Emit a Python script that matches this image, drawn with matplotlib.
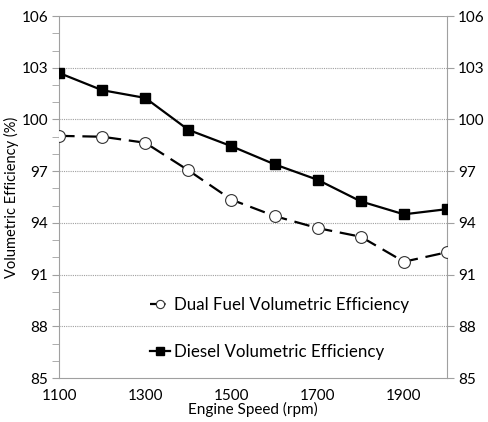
import matplotlib
matplotlib.use("Agg")
import matplotlib.pyplot as plt
from matplotlib.ticker import FixedLocator, MultipleLocator

plt.rcParams['font.family'] = ['Lato', 'DejaVu Sans']

speed = [1100, 1200, 1300, 1400, 1500, 1600, 1700, 1800, 1900, 2000]
diesel = [102.7, 101.7, 101.25, 99.4, 98.45, 97.4, 96.5, 95.25, 94.5, 94.8]
dual = [99.05, 99.0, 98.65, 97.05, 95.35, 94.4, 93.7, 93.2, 91.75, 92.3]
yticks = [85, 88, 91, 94, 97, 100, 103, 106]
xticks = [1100, 1300, 1500, 1700, 1900]

fig = plt.figure(figsize=(4.88, 4.22), dpi=100)
ax = fig.add_axes([0.121, 0.104, 0.795, 0.858])

grid_c = '#a0a0a0'
ax.set_xlim(1100, 2000)
ax.set_ylim(85, 106)
for y in yticks[1:]:
    ax.axhline(y, color=grid_c, lw=0.8, ls=(0, (1, 1)) if y < 106 else '-', zorder=1)

l1, = ax.plot(speed, dual, color='black', lw=1.6, ls=(0, (7, 3.5)), marker='o',
              markersize=8.5, markerfacecolor='white', markeredgecolor='#333333',
              markeredgewidth=0.8, zorder=3, label='Dual Fuel Volumetric Efficiency')
l2, = ax.plot(speed, diesel, color='black', lw=1.6, marker='s', markersize=7.5,
              markerfacecolor='black', markeredgecolor='black', zorder=3,
              label='Diesel Volumetric Efficiency')

for s in ['left', 'right', 'bottom']:
    ax.spines[s].set_color(grid_c)
    ax.spines[s].set_linewidth(0.8)
ax.spines['top'].set_visible(False)

ax.set_yticks(yticks)
ax.yaxis.set_minor_locator(MultipleLocator(1))
ax.tick_params(axis='y', which='major', length=5, color=grid_c, labelsize=11, pad=3)
ax.tick_params(axis='y', which='minor', length=5, color=grid_c)
ax.set_xticks(xticks)
ax.xaxis.set_minor_locator(FixedLocator([1100, 1500, 1900]))
ax.tick_params(axis='x', which='major', length=0, labelsize=11, pad=8)
ax.tick_params(axis='x', which='minor', length=5, color=grid_c)

ax2 = ax.twinx()
ax2.set_ylim(85, 106)
ax2.set_yticks(yticks)
ax2.tick_params(axis='y', length=5, color=grid_c, labelsize=11, pad=3)
for s in ax2.spines.values():
    s.set_visible(False)

ax.set_ylabel('Volumetric Efficiency (%)', fontsize=10.5, labelpad=2)
ax.set_xlabel('Engine Speed (rpm)', fontsize=11, labelpad=-1)

leg = ax.legend(handles=[l1, l2], loc='upper left', bbox_to_anchor=(0.195, 0.266),
                frameon=False, fontsize=12.2, handlelength=1.2, handletextpad=0.2,
                labelspacing=1.85, markerscale=0.7)

fig.savefig('out.png', dpi=100)
